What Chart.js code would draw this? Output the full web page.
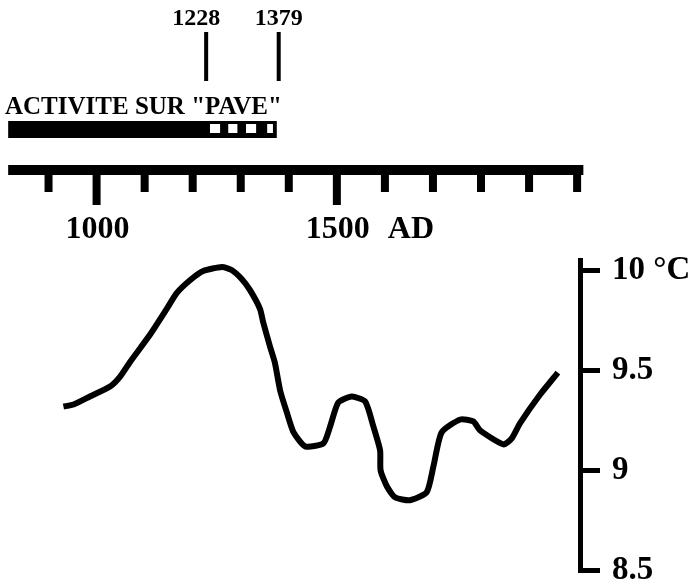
<!DOCTYPE html>
<html>
<head>
<meta charset="utf-8">
<script src="https://cdn.jsdelivr.net/npm/chart.js@4.4.0/dist/chart.umd.min.js"></script>
<style>
  html, body { margin: 0; padding: 0; background: #fff; }
  #wrap { width: 696px; height: 582px; }
</style>
</head>
<body>
<div id="wrap"><canvas id="temperature"></canvas></div>
<script>
// Courbe de temperature (annees AD, degres C)
var years = [931, 952, 986, 1028, 1049, 1070, 1111, 1146, 1167, 1195, 1222, 1261, 1281, 1302, 1319,
  1340, 1347, 1361, 1371, 1382, 1396, 1410, 1434, 1472, 1486, 1503, 1531, 1559, 1576, 1590, 1591,
  1604, 1621, 1652, 1687, 1701, 1718, 1757, 1784, 1798, 1847, 1864, 1881, 1923, 1960];
var temps = [9.32, 9.33, 9.37, 9.42, 9.47, 9.545, 9.68, 9.81, 9.89, 9.955, 10.0, 10.02, 10.005, 9.96, 9.905,
  9.81, 9.74, 9.62, 9.54, 9.40, 9.29, 9.19, 9.12, 9.135, 9.22, 9.34, 9.37, 9.345, 9.22, 9.10, 9.00,
  8.92, 8.865, 8.85, 8.89, 9.02, 9.19, 9.255, 9.245, 9.20, 9.13, 9.16, 9.235, 9.38, 9.49];

// Axe des temperatures
var tempTicks = [8.5, 9, 9.5, 10];

// Frise chronologique du haut
var timelineStart = 816;
var timelineEnd = 2013;
var centuryTicks = [900, 1000, 1100, 1200, 1300, 1400, 1500, 1600, 1700, 1800, 1900, 2000];
var labelledYears = [1000, 1500];

// Activite sur "Pave"
var activityStart = 816;
var activityEnd = 1375;
var gapStarts = [1236, 1274, 1311, 1355];
var gapEnds = [1257, 1293, 1332, 1367];
var markerYears = [1228, 1379];

var serif = '"Liberation Serif", "Times New Roman", serif';

// Dessine la frise et la barre d'activite avec l'echelle x du graphique
var timelinePlugin = {
  id: 'timeline',
  afterDraw: function(chart) {
    var ctx = chart.ctx;
    var x = chart.scales.x;
    ctx.save();
    ctx.fillStyle = '#000';

    // ligne de la frise
    var x0 = x.getPixelForValue(timelineStart);
    var x1 = x.getPixelForValue(timelineEnd);
    ctx.fillRect(x0, 165, x1 - x0, 10);

    // graduations par siecle
    centuryTicks.forEach(function(yr) {
      var px = x.getPixelForValue(yr);
      var bottom = labelledYears.indexOf(yr) >= 0 ? 205 : 192;
      ctx.fillRect(px - 4, 170, 8, bottom - 170);
    });

    // libelles des annees
    ctx.font = 'bold 32px ' + serif;
    ctx.textBaseline = 'alphabetic';
    ctx.textAlign = 'center';
    labelledYears.forEach(function(yr) {
      ctx.fillText(String(yr), x.getPixelForValue(yr) + 1, 238);
    });
    ctx.textAlign = 'left';
    ctx.fillText('AD', x.getPixelForValue(1500) + 51, 238);

    // barre d'activite
    var a0 = x.getPixelForValue(activityStart);
    var a1 = x.getPixelForValue(activityEnd);
    ctx.fillRect(a0, 121, a1 - a0, 17);
    ctx.fillStyle = '#fff';
    for (var i = 0; i < gapStarts.length; i++) {
      var g0 = x.getPixelForValue(gapStarts[i]);
      var g1 = x.getPixelForValue(gapEnds[i]);
      ctx.fillRect(g0, 124, g1 - g0, 9);
    }

    ctx.fillStyle = '#000';
    ctx.font = 'bold 25px ' + serif;
    ctx.fillText('ACTIVITE SUR "PAVE"', 5, 114);

    // reperes 1228 et 1379
    var shifts = [-10, 0];
    ctx.font = 'bold 24px ' + serif;
    ctx.textAlign = 'center';
    markerYears.forEach(function(yr, k) {
      var px = x.getPixelForValue(yr);
      ctx.fillRect(px - 2, 32, 4, 49);
      ctx.fillText(String(yr), px + shifts[k], 25);
    });
    ctx.restore();
  }
};

var tempChart = new Chart(document.getElementById('temperature'), {
  type: 'line',
  data: {
    datasets: [{
      data: years.map(function(yr, i) { return { x: yr, y: temps[i] }; }),
      borderColor: '#000',
      borderWidth: 6,
      pointRadius: 0,
      tension: 0.2,
      fill: false
    }]
  },
  options: {
    responsive: true,
    maintainAspectRatio: false,
    animation: false,
    layout: { padding: { top: 260, bottom: 10, left: 0, right: 0 } },
    plugins: { legend: { display: false }, tooltip: { enabled: false } },
    scales: {
      x: {
        type: 'linear',
        display: false,
        min: 799,
        max: 2006
      },
      y: {
        type: 'linear',
        position: 'right',
        min: 8.49,
        max: 10.055,
        afterBuildTicks: function(scale) {
          scale.ticks = tempTicks.map(function(v) { return { value: v }; });
        },
        afterFit: function(scale) {
          scale.width = 116;
          scale.paddingTop = 0;
          scale.paddingBottom = 0;
        },
        border: { display: true, color: '#000', width: 5 },
        grid: {
          drawOnChartArea: false,
          drawTicks: true,
          tickLength: 20,
          tickWidth: 5,
          tickColor: '#000'
        },
        ticks: {
          padding: 12,
          color: '#000',
          font: { family: serif, size: 33, weight: 'bold' },
          callback: function(v) { return v === 10 ? '10 °C' : String(v); }
        }
      }
    }
  },
  plugins: [timelinePlugin]
});
</script>
</body>
</html>
